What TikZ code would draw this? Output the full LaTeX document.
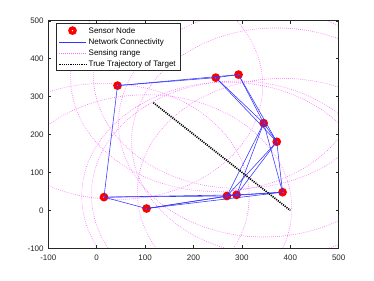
\documentclass[tikz,border=0pt]{standalone}
\usepackage{fontspec}
\setmainfont{Liberation Sans}
\definecolor{axisgray}{rgb}{0.15,0.15,0.15}
\definecolor{linkblue}{rgb}{0.2,0.2,1}
\definecolor{rangepink}{rgb}{1,0.4,1}
\begin{document}
\begin{tikzpicture}[x=0.484pt, y=0.3793pt,
    sensor/.style={draw=red, line width=3.3pt},
    link/.style={linkblue, line width=0.55pt},
    sensingrange/.style={rangepink, line width=0.6pt, dash pattern=on 0.7pt off 1.3pt},
    track/.style={black, line width=1.7pt, dash pattern=on 1.1pt off 1.1pt},
    ticklabel/.style={text=axisgray, font=\fontsize{8}{9}\selectfont, inner sep=1pt},
    legendtext/.style={text=black, font=\fontsize{8}{9}\selectfont, inner sep=0pt, anchor=west}]
    \useasboundingbox (-199.8,-183.5) rectangle (572.9,554.7);

    % sensor positions
    \coordinate (s1) at (15,35);
    \coordinate (s2) at (103,5);
    \coordinate (s3) at (43,329);
    \coordinate (s4) at (246,350);
    \coordinate (s5) at (293,358);
    \coordinate (s6) at (345,230);
    \coordinate (s7) at (372,181);
    \coordinate (s8) at (384,48);
    \coordinate (s9) at (269,38);
    \coordinate (s10) at (289,41);
    \coordinate (start) at (117,284);
    \coordinate (stop) at (400,0);

    % sensing ranges
    \begin{scope}
        \clip (-100,-100) rectangle (500,500);
        \foreach \i in {1,...,10}
            \draw[sensingrange] (s\i) circle [x radius=300, y radius=300];
    \end{scope}

    \foreach \i in {1,...,10}
        \draw[sensor] (s\i) circle [radius=2.6pt];

    \foreach \a/\b in {1/2,1/3,1/9,1/10,2/8,2/9,2/10,3/4,3/5,4/5,4/6,4/7,5/6,5/7,
                       6/7,6/8,6/9,6/10,7/8,7/9,7/10,8/9,8/10,9/10}
        \draw[link] (s\a) -- (s\b);

    \draw[track] (start) -- (stop);

    % axes
    \draw[axisgray, line width=0.6pt] (-100,-100) rectangle (500,500);
    \foreach \v in {-100,0,...,500} {
        \draw[axisgray, line width=0.5pt] (\v,-100) -- ++(0,2.9pt);
        \draw[axisgray, line width=0.5pt] (\v,500) -- ++(0,-2.9pt);
        \draw[axisgray, line width=0.5pt] (-100,\v) -- ++(2.9pt,0);
        \draw[axisgray, line width=0.5pt] (500,\v) -- ++(-2.9pt,0);
        \node[ticklabel, anchor=north] (xt\v) at ([yshift=-5.5pt]\v,-100) {\v};
        \node[ticklabel, anchor=east] (yt\v) at ([xshift=-3.5pt]-100,\v) {\v};
    }

    % legend
    \draw[axisgray, fill=white, line width=0.5pt] (-84,370) rectangle (172,493);
    \draw[sensor] (-50,474) circle [radius=2.6pt];
    \node[legendtext] (lg1) at (-17,474) {Sensor Node};
    \draw[link] (-77,444) -- (-22,444);
    \node[legendtext] (lg2) at (-17,444) {Network Connectivity};
    \draw[sensingrange] (-77,415) -- (-22,415);
    \node[legendtext] (lg3) at (-17,415) {Sensing range};
    \draw[track] (-77,385) -- (-22,385);
    \node[legendtext] (lg4) at (-17,385) {True Trajectory of Target};
\end{tikzpicture}
\end{document}
